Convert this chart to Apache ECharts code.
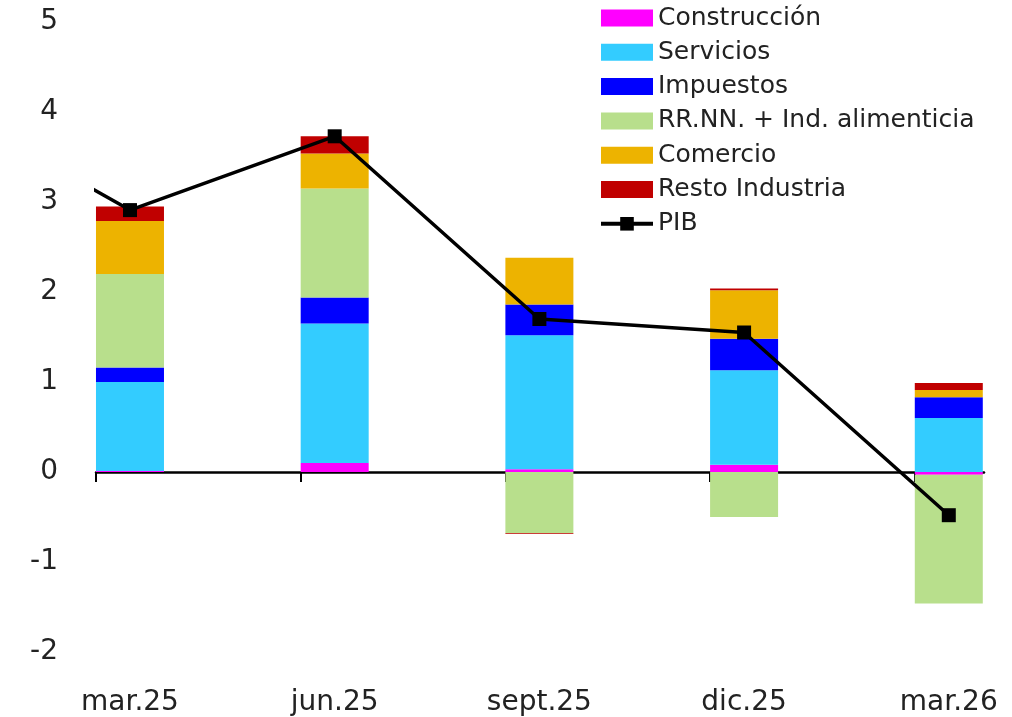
<!DOCTYPE html>
<html>
<head>
<meta charset="utf-8">
<script src="https://cdn.jsdelivr.net/npm/echarts@6/dist/echarts.min.js"></script>
<style>
  html, body { margin: 0; padding: 0; background: #fff; }
  #chart { width: 1012px; height: 717px; }
</style>
</head>
<body>
<div id="chart"></div>
<script>
// trimestres
const categories = ['mar.25', 'jun.25', 'sept.25', 'dic.25', 'mar.26']
// contribuciones (pp)
const construccion = [0.01, 0.10, 0.03, 0.08, -0.03]
const servicios = [0.99, 1.55, 1.49, 1.05, 0.60]
const impuestos = [0.16, 0.29, 0.34, 0.35, 0.23]
const rrnn = [1.04, 1.21, -0.68, -0.50, -1.43]
const comercio = [0.59, 0.39, 0.52, 0.54, 0.08]
const resto = [0.16, 0.19, -0.01, 0.02, 0.08]
const pib = [2.91, 3.73, 1.70, 1.55, -0.48]
const pibPrev = 4.2 // trimestre anterior (dic.24), fuera del área
const yTicks = [-2, -1, 0, 1, 2, 3, 4, 5]

const FONT = 'DejaVu Sans'
const SHIFT = 0.166 // centro de barra respecto al tick
const xs = categories.map((c, i) => i + SHIFT)

const chart = echarts.init(document.getElementById('chart'))

// valor primero y x después, para que el stack se haga sobre y
const barSeries = [
  ['Construcción', construccion, '#ff00ff'],
  ['Servicios', servicios, '#33ccff'],
  ['Impuestos', impuestos, '#0000ff'],
  ['RR.NN. + Ind. alimenticia', rrnn, '#b8df8c'],
  ['Comercio', comercio, '#edb300'],
  ['Resto Industria', resto, '#c00000'],
].map(([name, vals, color]) => ({
  name: name,
  type: 'bar',
  stack: 'total',
  barWidth: 68,
  encode: { x: 1, y: 0 },
  itemStyle: { color: color },
  data: vals.map((v, i) => [v, xs[i]]),
}))

const pibData = [[-1 + SHIFT, pibPrev]].concat(pib.map((v, i) => [xs[i], v]))

const option = {
  animation: false,
  textStyle: { fontFamily: FONT },
  legend: {
    orient: 'vertical',
    left: 594,
    top: 0,
    itemWidth: 52,
    itemHeight: 17,
    itemGap: 8.3,
    textStyle: { fontFamily: FONT, fontSize: 25, lineHeight: 26, color: '#222' },
    data: [
      { name: 'Construcción', icon: 'rect' },
      { name: 'Servicios', icon: 'rect' },
      { name: 'Impuestos', icon: 'rect' },
      { name: 'RR.NN. + Ind. alimenticia', icon: 'rect' },
      { name: 'Comercio', icon: 'rect' },
      { name: 'Resto Industria', icon: 'rect' },
      { name: 'PIB', lineStyle: { width: 4 } },
    ],
  },
  grid: { left: 96, right: 28, top: 22, bottom: 65, containLabel: false },
  xAxis: [
    {
      type: 'value',
      min: 0,
      max: 4.338,
      interval: 1,
      axisLine: { onZero: true, lineStyle: { color: '#000', width: 2.5 } },
      axisTick: { show: true, customValues: [0, 1, 2, 3, 4], length: 10, lineStyle: { color: '#000', width: 2 } },
      axisLabel: { show: false },
      splitLine: { show: false },
    },
    {
      type: 'value',
      position: 'bottom',
      min: 0,
      max: 4.338,
      axisLine: { show: false, onZero: false },
      axisTick: { show: false },
      splitLine: { show: false },
      axisLabel: {
        show: true,
        customValues: xs,
        margin: 37,
        fontFamily: FONT,
        fontSize: 28,
        color: '#222',
        formatter: function (v) {
          const i = Math.round(v - SHIFT)
          return categories[i] || ''
        },
      },
    },
  ],
  yAxis: {
    type: 'value',
    min: yTicks[0],
    max: yTicks[yTicks.length - 1],
    interval: 1,
    axisLine: { show: false },
    axisTick: { show: false },
    splitLine: { show: false },
    axisLabel: { margin: 38, padding: [6, 0, 0, 0], fontFamily: FONT, fontSize: 28, color: '#222' },
  },
  series: barSeries.concat([
    {
      name: 'PIB',
      type: 'line',
      data: pibData,
      clip: true,
      symbol: 'rect',
      symbolSize: 14,
      itemStyle: { color: '#000' },
      lineStyle: { color: '#000', width: 3.5 },
      z: 5,
    },
  ]),
}

chart.setOption(option)
</script>
</body>
</html>
